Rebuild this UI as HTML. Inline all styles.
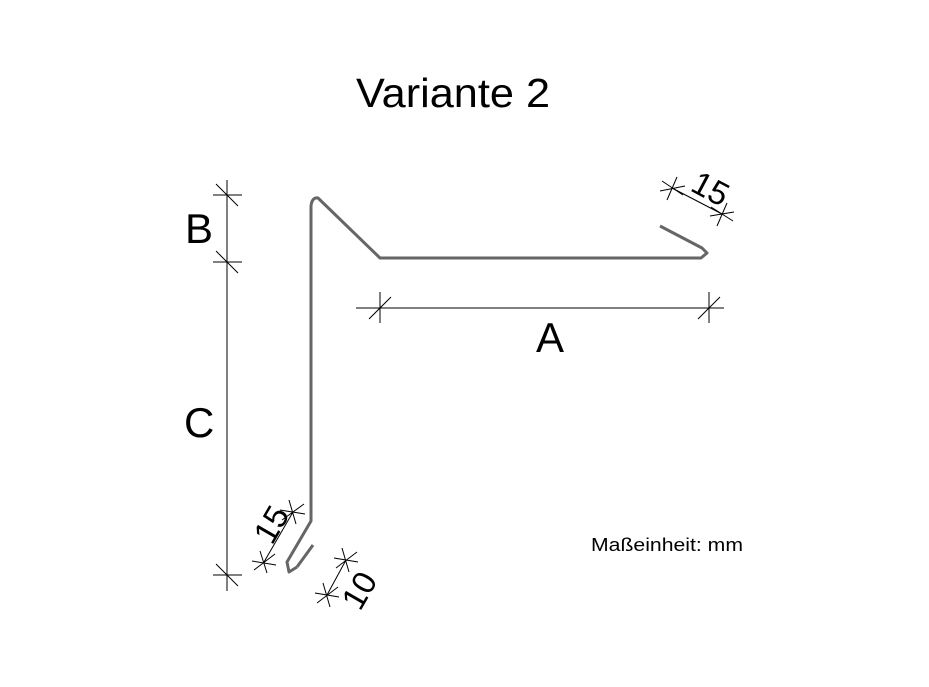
<!DOCTYPE html>
<html><head><meta charset="utf-8"><style>html,body{margin:0;padding:0;background:#fff}svg{display:block}</style></head>
<body>
<svg width="929" height="687" viewBox="0 0 929 687" xmlns="http://www.w3.org/2000/svg" font-family="Liberation Sans, Arial, sans-serif">
<rect width="929" height="687" fill="#fff"/>
<g fill="none" stroke="#666" stroke-width="3" stroke-linejoin="round">
<path d="M297,567 L289,572 L287,562 L311,521 L311,206 Q312,197 318,198 L380,258 L701,258 L707,253 L702,248 L660,226"/>
<path d="M313,545 L297,567"/>
</g>
<g stroke="#000" stroke-width="1" fill="none">
<line x1="227" y1="180" x2="227" y2="591"/>
<line x1="213" y1="195" x2="242" y2="195"/><line x1="216" y1="184" x2="238" y2="206"/>
<line x1="213" y1="262" x2="242" y2="262"/><line x1="216" y1="251" x2="238" y2="273"/>
<line x1="213" y1="575" x2="242" y2="575"/><line x1="216" y1="564" x2="238" y2="586"/>
<line x1="356" y1="308" x2="724" y2="308"/>
<line x1="380" y1="292" x2="380" y2="323"/><line x1="369" y1="319" x2="391" y2="297"/>
<line x1="709" y1="292" x2="709" y2="323"/><line x1="698" y1="319" x2="720" y2="297"/>
<line x1="672" y1="188" x2="722" y2="214"/>
<line x1="660" y1="191" x2="685" y2="186"/><line x1="667" y1="200" x2="677" y2="177"/><line x1="662" y1="181" x2="683" y2="195"/>
<line x1="710" y1="216" x2="734" y2="212"/><line x1="717" y1="226" x2="727" y2="203"/><line x1="711" y1="207" x2="733" y2="221"/>
<line x1="293" y1="512" x2="264" y2="562"/>
<line x1="280" y1="510" x2="305" y2="514"/><line x1="289" y1="500" x2="296" y2="524"/><line x1="282" y1="520" x2="304" y2="504"/>
<line x1="252" y1="561" x2="276" y2="565"/><line x1="260" y1="551" x2="267" y2="573"/><line x1="254" y1="570" x2="275" y2="554"/>
<line x1="346" y1="560" x2="327" y2="595"/>
<line x1="334" y1="558" x2="358" y2="562"/><line x1="342" y1="548" x2="349" y2="572"/><line x1="336" y1="568" x2="357" y2="552"/>
<line x1="315" y1="593" x2="339" y2="597"/><line x1="323" y1="583" x2="330" y2="607"/><line x1="317" y1="603" x2="338" y2="587"/>
</g>
<g fill="#000">
<text x="356" y="107" font-size="41" textLength="194" lengthAdjust="spacingAndGlyphs">Variante 2</text>
<text x="185" y="243" font-size="42">B</text>
<text x="184" y="437" font-size="42">C</text>
<text x="536" y="352" font-size="42">A</text>
<text x="591" y="551" font-size="18" textLength="152" lengthAdjust="spacingAndGlyphs">Maßeinheit: mm</text>
<text font-size="33" transform="translate(689,190) rotate(28)">15</text>
<text font-size="33" transform="translate(272,546) rotate(-60)">15</text>
<text font-size="33" transform="translate(360,612) rotate(-60)">10</text>
</g>
</svg>
</body></html>
